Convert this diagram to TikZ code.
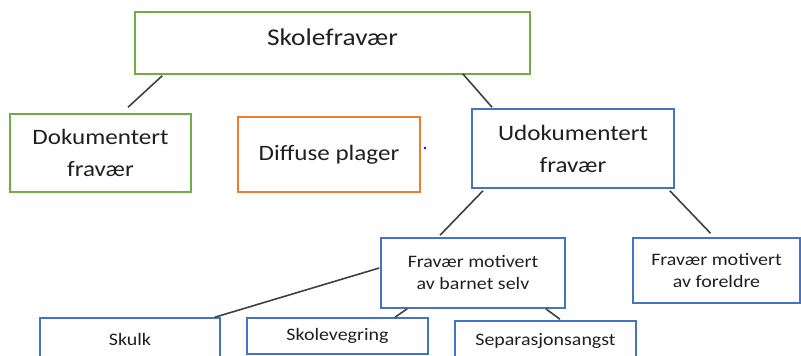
\documentclass[tikz,border=0pt]{standalone}
\usepackage{fontspec}
\setmainfont{Carlito}[FakeStretch=1.14]
\definecolor{bgreen}{HTML}{70AD47}
\definecolor{borange}{HTML}{ED7D31}
\definecolor{bblue}{HTML}{4472C4}
\definecolor{lgray}{HTML}{404040}
\tikzset{
  box/.style={draw, line width=1.5pt, rectangle, align=center, inner sep=0pt, text=black!88},
  huge/.style={font=\fontsize{24}{32}\selectfont},
  big/.style={font=\fontsize{22}{32}\selectfont},
  small/.style={font=\fontsize{17.5}{22}\selectfont},
  link/.style={draw=lgray, line width=1.6pt},
}
\begin{document}
\begin{tikzpicture}[x=1pt,y=-1pt]
\useasboundingbox (0,0) rectangle (801,356);
\clip (0,0) rectangle (801,356);
\node[box, huge, draw=bgreen, minimum width=395pt, minimum height=62pt] (top) at (332.5,43) {\raisebox{12pt}{Skolefravær}};
\node[box, big, draw=bgreen, minimum width=181pt, minimum height=78pt] (dok) at (100.5,153) {Dokumentert\\fravær};
\node[box, big, draw=borange, minimum width=182pt, minimum height=75pt] (diff) at (329,154.5) {Diffuse plager};
\node[box, big, draw=bblue, minimum width=202pt, minimum height=79pt] (udok) at (573,148.5) {Udokumentert\\fravær};
\node[box, small, draw=bblue, minimum width=184pt, minimum height=70pt] (barn) at (473,273) {Fravær motivert\\av barnet selv};
\node[box, small, draw=bblue, minimum width=167pt, minimum height=65pt] (foreld) at (716.5,270.5) {Fravær motivert\\av foreldre};
\node[box, small, draw=bblue, minimum width=180pt, minimum height=42pt] (skulk) at (130,339) {Skulk};
\node[box, small, draw=bblue, minimum width=181pt, minimum height=36pt] (skolev) at (337.5,336) {Skolevegring};
\node[box, small, draw=bblue, minimum width=181pt, minimum height=39pt] (separ) at (545.5,340.5) {Separasjonsangst};
\node[circle, fill=blue, inner sep=0pt, minimum size=2.6pt] (dot) at (425,148) {};
\draw[link] ([shift={(28,1)}]top.south west) -- ([shift={(27.5,-6)}]dok.north);
\draw[link] ([shift={(-68,-1)}]top.south east) -- ([shift={(-81,-1)}]udok.north);
\draw[link] ([shift={(-90,2)}]udok.south) -- ([shift={(-33,-2)}]barn.north);
\draw[link] ([shift={(-5,2)}]udok.south east) -- ([shift={(-6,-4)}]foreld.north);
\draw[link] ([shift={(-1,-5)}]barn.west) -- ([shift={(-6,0)}]skulk.north east);
\draw[link] ([shift={(27,0)}]barn.south west) -- ([shift={(57.5,0)}]skolev.north);
\draw[link] ([shift={(-20,0)}]barn.south east) -- ([shift={(14.5,-1)}]separ.north);
\end{tikzpicture}
\end{document}
